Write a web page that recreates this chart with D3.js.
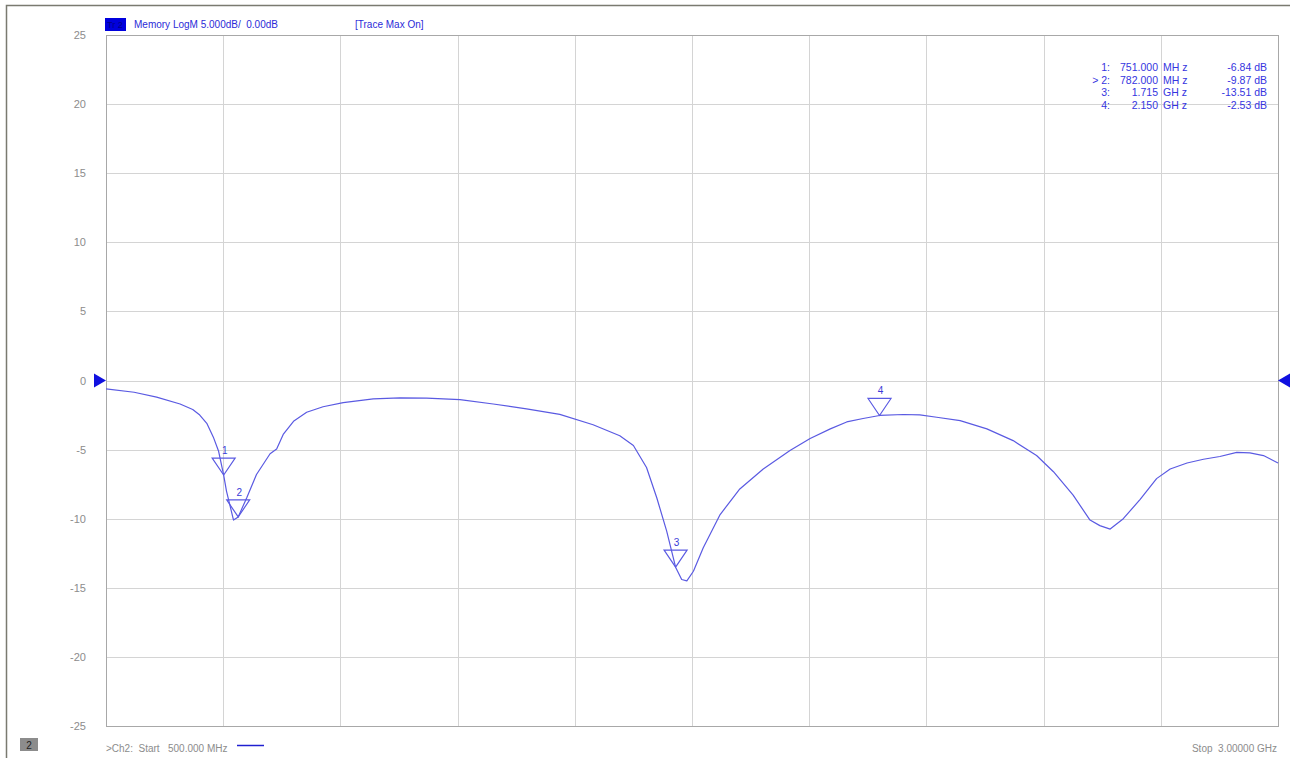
<!DOCTYPE html>
<html>
<head>
<meta charset="utf-8">
<script src="https://cdn.jsdelivr.net/npm/d3@7"></script>
<style>
  body { margin: 0; background: #fff; }
  svg { display: block; font-family: "Liberation Sans", Arial, sans-serif; }
</style>
</head>
<body>
<div id="chart"></div>
<script>
// Trace data (frequency in MHz, LogM in dB)
const freqMHz = [500, 560, 608, 658, 685, 700, 715, 729, 740, 751, 757, 772, 782, 800, 821, 850, 864, 878,
  900, 928, 963, 1006, 1070, 1127, 1184, 1255, 1326, 1397, 1468, 1539, 1596, 1625, 1653, 1675,
  1696, 1715, 1728, 1739, 1753, 1774, 1810, 1852, 1902, 1959, 2002, 2045, 2080, 2115, 2150,
  2201, 2236, 2272, 2322, 2379, 2435, 2485, 2521, 2563, 2599, 2620, 2642, 2670, 2706, 2741,
  2770, 2806, 2841, 2876, 2912, 2940, 2969, 3000];
const logMag = [-0.6, -0.85, -1.2, -1.7, -2.1, -2.5, -3.1, -4.1, -5.1, -6.84, -8.0, -10.1, -9.87, -8.5, -6.8, -5.3, -4.95, -3.9,
  -2.95, -2.3, -1.9, -1.6, -1.33, -1.26, -1.28, -1.38, -1.7, -2.05, -2.45, -3.2, -4.0, -4.7, -6.3, -8.5,
  -10.9, -13.51, -14.4, -14.5, -13.8, -12.1, -9.7, -7.85, -6.4, -5.07, -4.2, -3.5, -3.0, -2.75, -2.53,
  -2.46, -2.49, -2.66, -2.9, -3.5, -4.35, -5.43, -6.6, -8.3, -10.1, -10.5, -10.75, -10.0, -8.6, -7.1,
  -6.4, -5.97, -5.7, -5.5, -5.2, -5.24, -5.43, -5.97];

// Markers
const markerIds = ["1", "2", "3", "4"];
const markerFreqMHz = [751, 782, 1715, 2150];
const markerDb = [-6.84, -9.87, -13.51, -2.53];
const markerActive = ["", "> ", "", ""];
const markerFreqText = ["751.000", "782.000", "1.715", "2.150"];
const markerUnit = ["MH z", "MH z", "GH z", "GH z"];

// Axis ticks
const yTicks = [25, 20, 15, 10, 5, 0, -5, -10, -15, -20, -25];
const xGrid = [500, 750, 1000, 1250, 1500, 1750, 2000, 2250, 2500, 2750, 3000];

const width = 1293;
const height = 758;
const margin = { top: 35, right: 15, bottom: 32, left: 106 };
const blue = "#2b2bd8";
const traceColor = "#5a5ae2";

const svg = d3.select("#chart")
  .append("svg")
  .attr("width", width)
  .attr("height", height);

// outer frame
svg.append("path")
  .attr("d", `M6.5,${height} V5.5 H1290`)
  .attr("fill", "none")
  .attr("stroke", "#7a7a70")
  .attr("stroke-width", 1.5);

const x = d3.scaleLinear()
  .domain([500, 3000])
  .range([margin.left, width - margin.right]);
const y = d3.scaleLinear()
  .domain([-25, 25])
  .range([height - margin.bottom, margin.top]);

// grid
svg.append("g")
  .selectAll("line")
  .data(xGrid)
  .enter()
  .append("line")
    .attr("x1", d => Math.round(x(d)) + 0.5)
    .attr("x2", d => Math.round(x(d)) + 0.5)
    .attr("y1", y(25))
    .attr("y2", y(-25))
    .attr("stroke", "#d4d4d4");

svg.append("g")
  .selectAll("line")
  .data(yTicks)
  .enter()
  .append("line")
    .attr("x1", x(500))
    .attr("x2", x(3000))
    .attr("y1", d => Math.round(y(d)) + 0.5)
    .attr("y2", d => Math.round(y(d)) + 0.5)
    .attr("stroke", "#d4d4d4");

// plot border
svg.append("rect")
  .attr("x", Math.round(x(500)) + 0.5)
  .attr("y", Math.round(y(25)) + 0.5)
  .attr("width", Math.round(x(3000)) - Math.round(x(500)))
  .attr("height", Math.round(y(-25)) - Math.round(y(25)))
  .attr("fill", "none")
  .attr("stroke", "#a8a8a8");

// y tick labels
svg.append("g")
  .selectAll("text")
  .data(yTicks)
  .enter()
  .append("text")
    .attr("x", 86)
    .attr("y", d => y(d) + 4)
    .attr("text-anchor", "end")
    .attr("font-size", 11)
    .attr("fill", "#8c8c8c")
    .text(d => d);

// reference level arrows
svg.append("path")
  .attr("d", `M${x(500) - 12},${y(0) - 7} L${x(500)},${y(0)} L${x(500) - 12},${y(0) + 7} Z`)
  .attr("fill", "#1010e0");
svg.append("path")
  .attr("d", `M${x(3000) + 12},${y(0) - 7} L${x(3000)},${y(0)} L${x(3000) + 12},${y(0) + 7} Z`)
  .attr("fill", "#1010e0");

// trace
const traceData = freqMHz.map((f, i) => ({ f: f, v: logMag[i] }));
const lineGenerator = d3.line()
  .x(d => x(d.f))
  .y(d => y(d.v));

svg.append("path")
  .datum(traceData)
  .attr("fill", "none")
  .attr("stroke", traceColor)
  .attr("stroke-width", 1.2)
  .attr("stroke-linejoin", "round")
  .attr("d", lineGenerator);

// marker triangles
markerIds.forEach((id, i) => {
  const mx = x(markerFreqMHz[i]);
  const my = y(markerDb[i]);
  svg.append("path")
    .attr("d", `M${mx},${my} L${mx - 11.5},${my - 17} L${mx + 11.5},${my - 17} Z`)
    .attr("fill", "none")
    .attr("stroke", traceColor)
    .attr("stroke-width", 1.2);
  svg.append("text")
    .attr("x", mx + 1)
    .attr("y", my - 21)
    .attr("text-anchor", "middle")
    .attr("font-size", 10)
    .attr("fill", "#3a3ad8")
    .text(id);
});

// header
svg.append("rect")
  .attr("x", 105)
  .attr("y", 18)
  .attr("width", 21)
  .attr("height", 13)
  .attr("fill", "#0000dd");
svg.append("text")
  .attr("x", 107)
  .attr("y", 28)
  .attr("font-size", 9)
  .attr("fill", "#00008a")
  .text("Tr 2");
svg.append("text")
  .attr("x", 134)
  .attr("y", 28)
  .attr("font-size", 10)
  .attr("fill", blue)
  .style("white-space", "pre")
  .text("Memory LogM 5.000dB/  0.00dB");
svg.append("text")
  .attr("x", 355)
  .attr("y", 28)
  .attr("font-size", 10)
  .attr("fill", blue)
  .text("[Trace Max On]");

// marker table
const table = svg.append("g")
  .attr("font-size", 10.5)
  .attr("fill", "#3535e0");
markerIds.forEach((id, i) => {
  const ty = 71 + i * 12.6;
  table.append("text")
    .attr("x", 1110).attr("y", ty)
    .attr("text-anchor", "end")
    .style("white-space", "pre")
    .text(markerActive[i] + id + ":");
  table.append("text")
    .attr("x", 1158).attr("y", ty)
    .attr("text-anchor", "end")
    .text(markerFreqText[i]);
  table.append("text")
    .attr("x", 1163).attr("y", ty)
    .text(markerUnit[i]);
  table.append("text")
    .attr("x", 1267).attr("y", ty)
    .attr("text-anchor", "end")
    .text(markerDb[i].toFixed(2) + " dB");
});

// footer
svg.append("rect")
  .attr("x", 20)
  .attr("y", 738)
  .attr("width", 18)
  .attr("height", 13)
  .attr("fill", "#8c8c8c");
svg.append("text")
  .attr("x", 29)
  .attr("y", 749)
  .attr("text-anchor", "middle")
  .attr("font-size", 10)
  .attr("fill", "#222")
  .text("2");
svg.append("text")
  .attr("x", 106)
  .attr("y", 752)
  .attr("font-size", 10)
  .attr("fill", "#8c8c8c")
  .style("white-space", "pre")
  .text(">Ch2:  Start   500.000 MHz");
svg.append("line")
  .attr("x1", 237)
  .attr("x2", 264)
  .attr("y1", 745.5)
  .attr("y2", 745.5)
  .attr("stroke", "#2020d0")
  .attr("stroke-width", 1.5);
svg.append("text")
  .attr("x", 1277)
  .attr("y", 752)
  .attr("text-anchor", "end")
  .attr("font-size", 10)
  .attr("fill", "#8c8c8c")
  .style("white-space", "pre")
  .text("Stop  3.00000 GHz");
</script>
</body>
</html>
